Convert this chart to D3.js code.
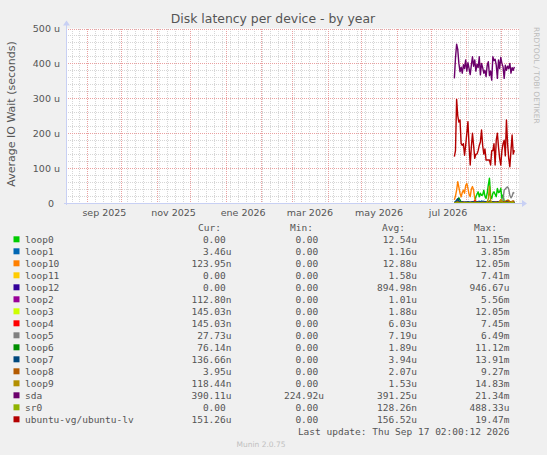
<!DOCTYPE html>
<html>
<head>
<meta charset="utf-8">
<script src="https://cdn.jsdelivr.net/npm/d3@7"></script>
<style>
  body { margin: 0; background: #f0f0f0; }
  svg { display: block; }
</style>
</head>
<body>
<svg id="chart"></svg>
<script>
// Chart data
const firstDay = "2026-07-22"; // one averaged sample per day from here
const rangeStart = "2025-08-13T02:00:12";
const rangeEnd = "2026-09-17T02:00:12";
const monthLabels = ["sep 2025", "nov 2025", "ene 2026", "mar 2026", "may 2026", "jul 2026"];
const monthLabelDates = ["2025-09-01", "2025-11-01", "2026-01-01", "2026-03-01", "2026-05-01", "2026-07-01"];
const yTicks = [0, 100, 200, 300, 400, 500];
const yTickLabels = ["0", "100 u", "200 u", "300 u", "400 u", "500 u"];

const names = ["loop0", "loop1", "loop10", "loop11", "loop12", "loop2", "loop3", "loop4",
  "loop5", "loop6", "loop7", "loop8", "loop9", "sda", "sr0", "ubuntu-vg/ubuntu-lv"];
const colors = ["#00cc00", "#0066b3", "#ff8000", "#ffcc00", "#330099", "#990099", "#ccff00", "#ff0000",
  "#808080", "#008f00", "#00487d", "#b35a00", "#b38f00", "#6b006b", "#8fb300", "#b30000"];
const curVals = ["0.00", "3.46u", "123.95n", "0.00", "0.00", "112.80n", "145.03n", "145.03n",
  "27.73u", "76.14n", "136.66n", "3.95u", "118.44n", "390.11u", "0.00", "151.26u"];
const minVals = ["0.00", "0.00", "0.00", "0.00", "0.00", "0.00", "0.00", "0.00",
  "0.00", "0.00", "0.00", "0.00", "0.00", "224.92u", "0.00", "0.00"];
const avgVals = ["12.54u", "1.16u", "12.88u", "1.58u", "894.98n", "1.01u", "1.88u", "6.03u",
  "7.19u", "1.89u", "3.94u", "2.07u", "1.53u", "391.25u", "128.26n", "156.52u"];
const maxVals = ["11.15m", "3.85m", "12.05m", "7.41m", "946.67u", "5.56m", "12.05m", "7.45m",
  "6.49m", "11.12m", "13.91m", "9.27m", "14.83m", "21.34m", "488.33u", "19.47m"];

// daily values in microseconds
const loop0 = [1,1,2,1,0,1,2,1,0,1, 2,1,1,0,1,2,1,1,2,18, 25,32,18,28,22,23,37,20,13,28,
  52,71,20,13,28,32,25,18,42,30, 32,42,13,23,5,2,1,0,1,2, 1,0,0,0];
const loop1 = [0,1,2,4,3,1,2,3,1,2, 1,2,3,2,1,0,1,2,1,2, 3,4,5,3,6,4,5,3,4,2,
  3,2,4,3,2,1,2,3,2,1, 2,3,2,1,2,3,2,1,2,3, 2,3,4,3.5];
const loop10 = [9,20,37,61,45,28,18,30,37,28, 50,56,42,25,18,40,47,37,13,3, 2,1,1,2,1,0,1,1,0,1,
  2,1,0,1,1,0,1,0,1,1, 0,1,0,1,2,1,0,1,0,1, 0,0,1,0.1];
const loop11 = [0,0,1,2,1,0,0,1,0,0, 0,0,1,0,0,0,0,0,1,0, 0,0,0,0,1,0,0,0,0,0,
  2,4,1,0,0,0,0,0,0,0, 0,1,0,0,0,0,2,6,8,3, 1,2,1,0];
const loop12 = [0,0,1,3,2,1,0,0,1,0, 0,0,0,1,0,0,0,0,0,0, 0,1,0,0,0,0,1,0,0,0,
  0,0,0,0,1,0,0,0,0,0, 0,0,0,1,0,0,0,0,0,0, 0,0,0,0];
const loop2 = [0,1,1,2,1,0,1,1,0,0, 1,0,1,1,0,0,1,0,0,1, 0,0,1,0,0,1,0,0,1,0,
  0,2,1,0,0,0,1,0,0,0, 1,0,0,1,0,0,1,0,0,0, 1,0,0,0.1];
const loop3 = [0,0,1,1,0,0,0,1,0,0, 0,1,0,0,0,0,0,1,0,0, 0,0,0,1,0,0,0,0,0,0,
  1,3,0,0,0,0,0,0,1,0, 0,0,0,0,1,0,0,0,0,0, 0,1,0,0.1];
const loop4 = [1,2,3,2,1,2,1,2,3,2, 1,2,2,1,2,3,2,4,6,5, 3,2,3,2,1,2,3,2,3,2,
  3,4,2,3,2,3,2,3,4,3, 5,8,7,4,3,2,3,2,3,2, 2,3,2,0.1];
const loop5 = [0,1,1,2,1,0,1,2,1,1, 0,1,1,2,1,0,1,1,0,1, 1,2,1,0,1,1,2,1,0,1,
  1,2,1,1,0,1,1,2,1,2, 3,2,4,10,37,40,44,46,40,22, 15,20,30,28];
const loop6 = [0,2,6,10,15,8,3,1,0,1, 0,1,0,0,1,0,0,0,1,0, 0,0,1,0,0,0,0,1,0,0,
  2,6,1,0,0,0,0,1,0,0, 0,0,1,0,0,0,0,0,1,0, 0,0,0,0.1];
const loop7 = [2,4,8,12,6,3,2,3,2,2, 3,2,4,3,2,3,4,3,2,3, 4,3,3,4,3,2,3,4,3,3,
  4,3,2,3,4,3,3,2,3,4, 3,4,3,3,2,3,4,3,2,3, 3,2,3,0.1];
const loop8 = [1,1,2,3,2,1,2,1,1,2, 1,1,2,1,1,2,1,1,2,2, 1,2,1,1,2,1,2,1,1,2,
  3,4,2,1,2,1,2,2,1,2, 3,4,3,2,3,5,7,8,6,4, 3,5,6,4];
const loop9 = [0,1,2,1,0,0,1,0,0,1, 0,0,1,0,0,0,1,0,0,0, 0,1,0,0,0,1,0,0,0,3,
  12,48,8,1,0,0,1,0,0,1, 3,10,4,1,0,0,1,0,0,1, 2,4,1,0.1];
const sda = [357,415,455,440,400,376,389,372,396,385, 410,378,402,385,368,395,419,392,410,378,
  398,388,419,367,400,388,372,380,362,395, 405,365,378,352,419,408,412,395,357,410,
  385,417,400,390,357,395,380,392,385,400, 372,388,380,390];
const sr0 = [0,0,0,0,0,0,0,0,0,0, 0,0,0,0,0,0,0,0,0,0, 0,0,0,0,0,0,0,0,0,0,
  0,1,0,0,0,0,0,0,0,0, 0,0,0,0,0,0,0,0,0,0, 0,0,0,0];
const ubuntuLv = [133,150,297,250,232,238,170,165,170,137, 165,200,233,165,109,160,200,165,128,140,
  140,150,165,175,209,165,140,155,123,123, 123,123,109,150,150,170,109,180,200,160,
  128,109,150,170,180,135,238,170,128,104, 150,195,140,151];

const seriesValues = [loop0, loop1, loop10, loop11, loop12, loop2, loop3, loop4,
  loop5, loop6, loop7, loop8, loop9, sda, sr0, ubuntuLv];

// Layout
const W = 547, H = 455;
const plot = { left: 66, right: 519, top: 28.5, bottom: 203 };
const textColor = "#555";
const sans = "'DejaVu Sans', sans-serif";
const mono = "'DejaVu Sans Mono', monospace";

const svg = d3.select("#chart").attr("width", W).attr("height", H);
svg.append("rect").attr("width", W).attr("height", H).attr("fill", "#f0f0f0");

const parseDay = d3.utcParse("%Y-%m-%d");
const parseTime = d3.utcParse("%Y-%m-%dT%H:%M:%S");
const t0 = parseTime(rangeStart), t1 = parseTime(rangeEnd);

const x = d3.scaleUtc().domain([t0, t1]).range([plot.left, plot.right]);
const y = d3.scaleLinear().domain([0, 500]).range([plot.bottom, plot.top]);

// canvas
svg.append("rect")
  .attr("x", plot.left).attr("y", plot.top)
  .attr("width", plot.right - plot.left).attr("height", plot.bottom - plot.top)
  .attr("fill", "#ffffff");

const grid = svg.append("g").attr("shape-rendering", "crispEdges");

// minor grid: weeks and 20u steps
grid.selectAll(".vminor")
  .data(d3.utcMonday.range(t0, t1))
  .enter().append("line")
  .attr("x1", (d) => Math.round(x(d)) + 0.5).attr("x2", (d) => Math.round(x(d)) + 0.5)
  .attr("y1", plot.top).attr("y2", plot.bottom)
  .attr("stroke", "#d6d6d6").attr("stroke-dasharray", "1,1");

grid.selectAll(".hminor")
  .data(d3.range(20, 500, 20).filter((v) => v % 100 !== 0))
  .enter().append("line")
  .attr("x1", plot.left).attr("x2", plot.right)
  .attr("y1", (d) => Math.round(y(d)) + 0.5).attr("y2", (d) => Math.round(y(d)) + 0.5)
  .attr("stroke", "#d6d6d6").attr("stroke-dasharray", "1,1");

// major grid: months and 100u steps
grid.selectAll(".vmajor")
  .data(d3.utcMonth.range(t0, t1))
  .enter().append("line")
  .attr("x1", (d) => Math.round(x(d)) + 0.5).attr("x2", (d) => Math.round(x(d)) + 0.5)
  .attr("y1", plot.top).attr("y2", plot.bottom)
  .attr("stroke", "#eaa0a0").attr("stroke-dasharray", "1,1");

grid.selectAll(".hmajor")
  .data(yTicks.filter((v) => v > 0))
  .enter().append("line")
  .attr("x1", plot.left).attr("x2", plot.right)
  .attr("y1", (d) => Math.round(y(d)) + 0.5).attr("y2", (d) => Math.round(y(d)) + 0.5)
  .attr("stroke", "#eaa0a0").attr("stroke-dasharray", "1,1");

// y tick labels
svg.append("g").selectAll("text")
  .data(yTicks)
  .enter().append("text")
  .attr("x", 60)
  .attr("y", (d) => y(d) + 3.5)
  .attr("text-anchor", "end")
  .attr("font-family", sans).attr("font-size", "9.5px").attr("fill", textColor)
  .text((d, i) => yTickLabels[i] + (d === 0 ? "\u00a0\u00a0" : ""));

// x tick labels, centred in their month
svg.append("g").selectAll("text")
  .data(monthLabelDates.map(parseDay))
  .enter().append("text")
  .attr("x", (d) => (x(d) + x(d3.utcMonth.offset(d, 1))) / 2)
  .attr("y", 215.5)
  .attr("text-anchor", "middle")
  .attr("font-family", sans).attr("font-size", "9.5px").attr("fill", textColor)
  .text((d, i) => monthLabels[i]);

// series lines
const line = d3.line()
  .x((d, i) => x(d3.utcDay.offset(parseDay(firstDay), i)))
  .y((d) => y(d));

svg.append("g").selectAll("path")
  .data(seriesValues)
  .enter().append("path")
  .attr("d", line)
  .attr("fill", "none")
  .attr("stroke", (d, i) => colors[i])
  .attr("stroke-width", 1.4)
  .attr("stroke-linejoin", "round");

// axes with arrows
const axisColor = "#c8d0f4";
svg.append("line")
  .attr("x1", plot.left - 2).attr("x2", plot.right + 3)
  .attr("y1", plot.bottom + 0.5).attr("y2", plot.bottom + 0.5)
  .attr("stroke", axisColor);
svg.append("line")
  .attr("x1", plot.left + 0.5).attr("x2", plot.left + 0.5)
  .attr("y1", plot.bottom + 2).attr("y2", plot.top - 4)
  .attr("stroke", axisColor);
svg.append("path")
  .attr("d", `M${plot.right + 3},${plot.bottom - 3} L${plot.right + 8},${plot.bottom + 0.5} L${plot.right + 3},${plot.bottom + 4} Z`)
  .attr("fill", axisColor);
svg.append("path")
  .attr("d", `M${plot.left - 3},${plot.top - 3} L${plot.left + 0.5},${plot.top - 8} L${plot.left + 4},${plot.top - 3} Z`)
  .attr("fill", axisColor);

// title and axis title
svg.append("text")
  .attr("x", 273).attr("y", 22.5)
  .attr("text-anchor", "middle")
  .attr("font-family", sans).attr("font-size", "12.4px").attr("fill", textColor)
  .text("Disk latency per device - by year");

svg.append("text")
  .attr("transform", "translate(14.5,114) rotate(-90)")
  .attr("text-anchor", "middle")
  .attr("font-family", sans).attr("font-size", "11px").attr("fill", textColor)
  .text("Average IO Wait (seconds)");

svg.append("text")
  .attr("transform", "translate(534,27) rotate(90)")
  .attr("font-family", sans).attr("font-size", "7.5px").attr("fill", "#bbbbbb")
  .text("RRDTOOL / TOBI OETIKER");

// legend
const legendTop = 239.3, rowH = 12;
const cols = [
  { head: "Cur:", headX: 221, valX: 231.5, vals: curVals },
  { head: "Min:", headX: 313, valX: 324, vals: minVals },
  { head: "Avg:", headX: 405, valX: 417, vals: avgVals },
  { head: "Max:", headX: 497, valX: 509.5, vals: maxVals },
];
const fmtVal = (s) => (/[a-z]$/.test(s) ? s : s + "\u00a0");

const legend = svg.append("g")
  .attr("font-family", mono).attr("font-size", "9.5px").attr("fill", textColor);

legend.selectAll(".head")
  .data(cols)
  .enter().append("text")
  .attr("x", (d) => d.headX).attr("y", legendTop - rowH + 3.5)
  .attr("text-anchor", "end")
  .text((d) => d.head);

const rows = legend.selectAll(".row")
  .data(names)
  .enter().append("g")
  .attr("transform", (d, i) => "translate(0," + (legendTop + i * rowH) + ")");

rows.append("rect")
  .attr("x", 13.5).attr("y", -3).attr("width", 6).attr("height", 6)
  .attr("fill", (d, i) => colors[i]);

rows.append("text")
  .attr("x", 25).attr("y", 3.5)
  .text((d) => d);

cols.forEach((c) => {
  rows.append("text")
    .attr("x", c.valX).attr("y", 3.5)
    .attr("text-anchor", "end")
    .text((d, i) => fmtVal(c.vals[i]));
});

legend.append("text")
  .attr("x", 509.5).attr("y", legendTop + names.length * rowH + 3.5)
  .attr("text-anchor", "end")
  .text("Last update: Thu Sep 17 02:00:12 2026");

svg.append("text")
  .attr("x", 261).attr("y", 447)
  .attr("text-anchor", "middle")
  .attr("font-family", sans).attr("font-size", "7.5px").attr("fill", "#c0c0c0")
  .text("Munin 2.0.75");
</script>
</body>
</html>
